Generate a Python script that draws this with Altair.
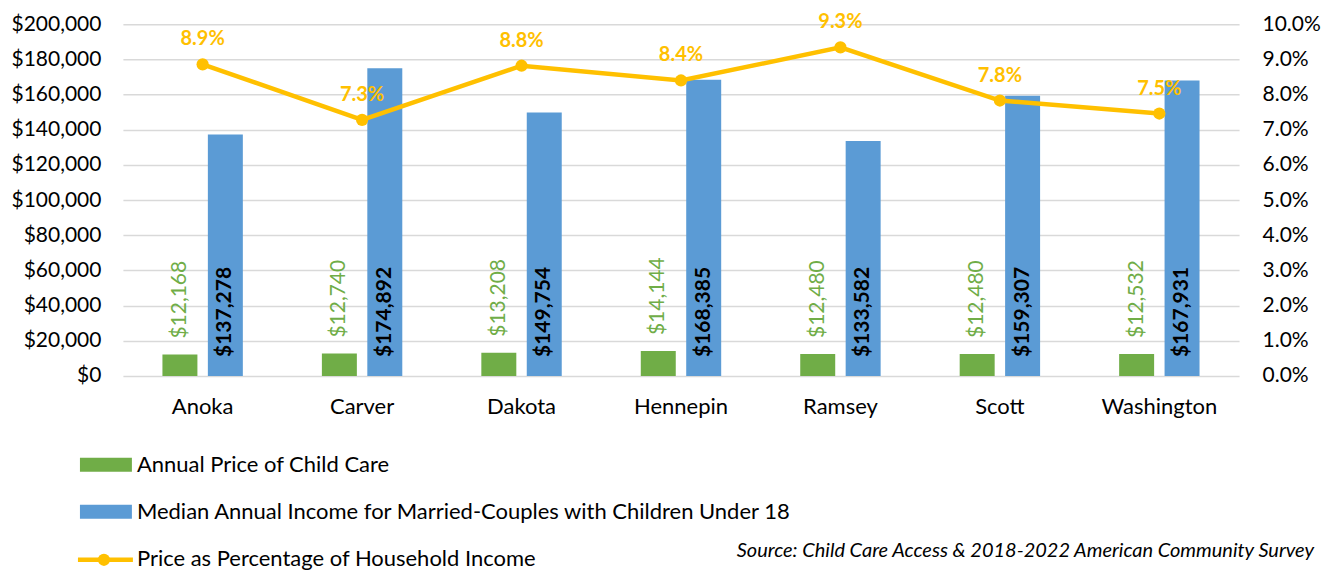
import altair as alt
import pandas as pd

counties = ["Anoka", "Carver", "Dakota", "Hennepin", "Ramsey", "Scott", "Washington"]
price = [12168, 12740, 13208, 14144, 12480, 12480, 12532]
income = [137278, 174892, 149754, 168385, 133582, 159307, 167931]
pct = [0.0886, 0.0728, 0.0882, 0.0840, 0.0934, 0.0783, 0.0746]

S_PRICE = "Annual Price of Child Care"
S_INCOME = "Median Annual Income for Married-Couples with Children Under 18"
S_PCT = "Price as Percentage of Household Income"
SOURCE = "Source: Child Care Access & 2018-2022 American Community Survey"

GREEN = "#70AD47"
BLUE = "#5B9BD5"
GOLD = "#FFC000"
FONT = "Lato"
FS = 21

long = pd.DataFrame({
    "county": counties * 2,
    "series": [S_PRICE] * len(counties) + [S_INCOME] * len(counties),
    "value": price + income,
    "zero": [0] * (2 * len(counties)),
})
wide = pd.DataFrame({"county": counties, "pct": pct})

xenc = alt.X("county:N", sort=counties, title=None,
             scale=alt.Scale(paddingInner=0, paddingOuter=0),
             axis=alt.Axis(labelAngle=0, ticks=False, domain=False, labelPadding=21,
                           labelFontSize=22, labelFont=FONT, labelColor="#000000"))
xoff = alt.XOffset("series:N", sort=[S_PRICE, S_INCOME],
                   scale=alt.Scale(paddingInner=0.23, paddingOuter=0.87))

left_axis = alt.Axis(values=list(range(0, 200001, 20000)), format="$,.0f",
                     gridColor="#D9D9D9", gridWidth=1.5, ticks=False, domain=False,
                     labelOverlap=False, labelFlush=False,
                     labelPadding=22, labelFontSize=FS, labelFont=FONT,
                     labelColor="#000000")
left_scale = alt.Scale(domain=[0, 200000])

bars = alt.Chart(long).mark_bar().encode(
    x=xenc, xOffset=xoff,
    y=alt.Y("value:Q", title=None, scale=left_scale, axis=left_axis),
    color=alt.Color("series:N", scale=alt.Scale(domain=[S_PRICE, S_INCOME], range=[GREEN, BLUE]),
                    legend=None),
)

green_lbl = alt.Chart(long).transform_filter(alt.datum.series == S_PRICE).mark_text(
    angle=270, align="left", baseline="middle", dx=16, color=GREEN,
    fontSize=FS, font=FONT
).encode(x=xenc, xOffset=xoff,
         y=alt.Y("value:Q", title=None, scale=left_scale, axis=left_axis),
         text=alt.Text("value:Q", format="$,.0f"))

blue_lbl = alt.Chart(long).transform_filter(alt.datum.series == S_INCOME).mark_text(
    angle=270, align="left", baseline="middle", dx=19, color="#000000",
    fontSize=FS, font=FONT, fontWeight="bold"
).encode(x=xenc, xOffset=xoff,
         y=alt.Y("zero:Q", title=None, scale=left_scale, axis=left_axis),
         text=alt.Text("value:Q", format="$,.0f"))

left = alt.layer(bars, green_lbl, blue_lbl)

right_axis = alt.Axis(orient="right", values=[i / 100 for i in range(11)], format=".1%",
                      grid=False, ticks=False, domain=False, labelPadding=23,
                      labelOverlap=False, labelFlush=False,
                      labelFontSize=FS, labelFont=FONT, labelColor="#000000")
yright = alt.Y("pct:Q", title=None, scale=alt.Scale(domain=[0, 0.10]), axis=right_axis)

line = alt.Chart(wide).mark_line(color=GOLD, strokeWidth=4.5).encode(x=xenc, y=yright)
pts = alt.Chart(wide).mark_point(color=GOLD, filled=True, opacity=1, size=150).encode(x=xenc, y=yright)
pct_lbl = alt.Chart(wide).mark_text(
    color=GOLD, fontSize=20, font=FONT, fontWeight="bold", dy=-25
).encode(x=xenc, y=yright, text=alt.Text("pct:Q", format=".1%"))

right = alt.layer(line, pts, pct_lbl)

one = pd.DataFrame({"a": [0]})
legend_layers = []
# legend rows (positions relative to plot origin)
for name, color, ypos in [(S_PRICE, GREEN, 441), (S_INCOME, BLUE, 488)]:
    legend_layers.append(alt.Chart(one).mark_rect(color=color).encode(
        x=alt.value(-43), x2=alt.value(9), y=alt.value(ypos - 7), y2=alt.value(ypos + 7)))
    legend_layers.append(alt.Chart(one).mark_text(
        text=name, align="left", baseline="middle", fontSize=22, font=FONT, color="#000000"
    ).encode(x=alt.value(14), y=alt.value(ypos)))
legend_layers.append(alt.Chart(one).mark_rule(color=GOLD, strokeWidth=4.5).encode(
    x=alt.value(-45), x2=alt.value(10), y=alt.value(536)))
legend_layers.append(alt.Chart(one).mark_point(color=GOLD, filled=True, opacity=1, size=150).encode(
    x=alt.value(-19), y=alt.value(536)))
legend_layers.append(alt.Chart(one).mark_text(
    text=S_PCT, align="left", baseline="middle", fontSize=22, font=FONT, color="#000000"
).encode(x=alt.value(14), y=alt.value(535)))
legend_layers.append(alt.Chart(one).mark_text(
    text=SOURCE, align="right", baseline="middle", fontSize=20, font=FONT, fontStyle="italic",
    color="#000000"
).encode(x=alt.value(1192), y=alt.value(527)))

chart = alt.layer(left, right, *legend_layers).resolve_scale(y="independent").properties(
    width=1117, height=352,
    padding={"left": 115, "top": 16, "right": 88, "bottom": 198},
    autosize=alt.AutoSizeParams(type="none"),
).configure_view(stroke=None)

chart.save("out.html", embed_options={"renderer": "svg", "actions": False})
